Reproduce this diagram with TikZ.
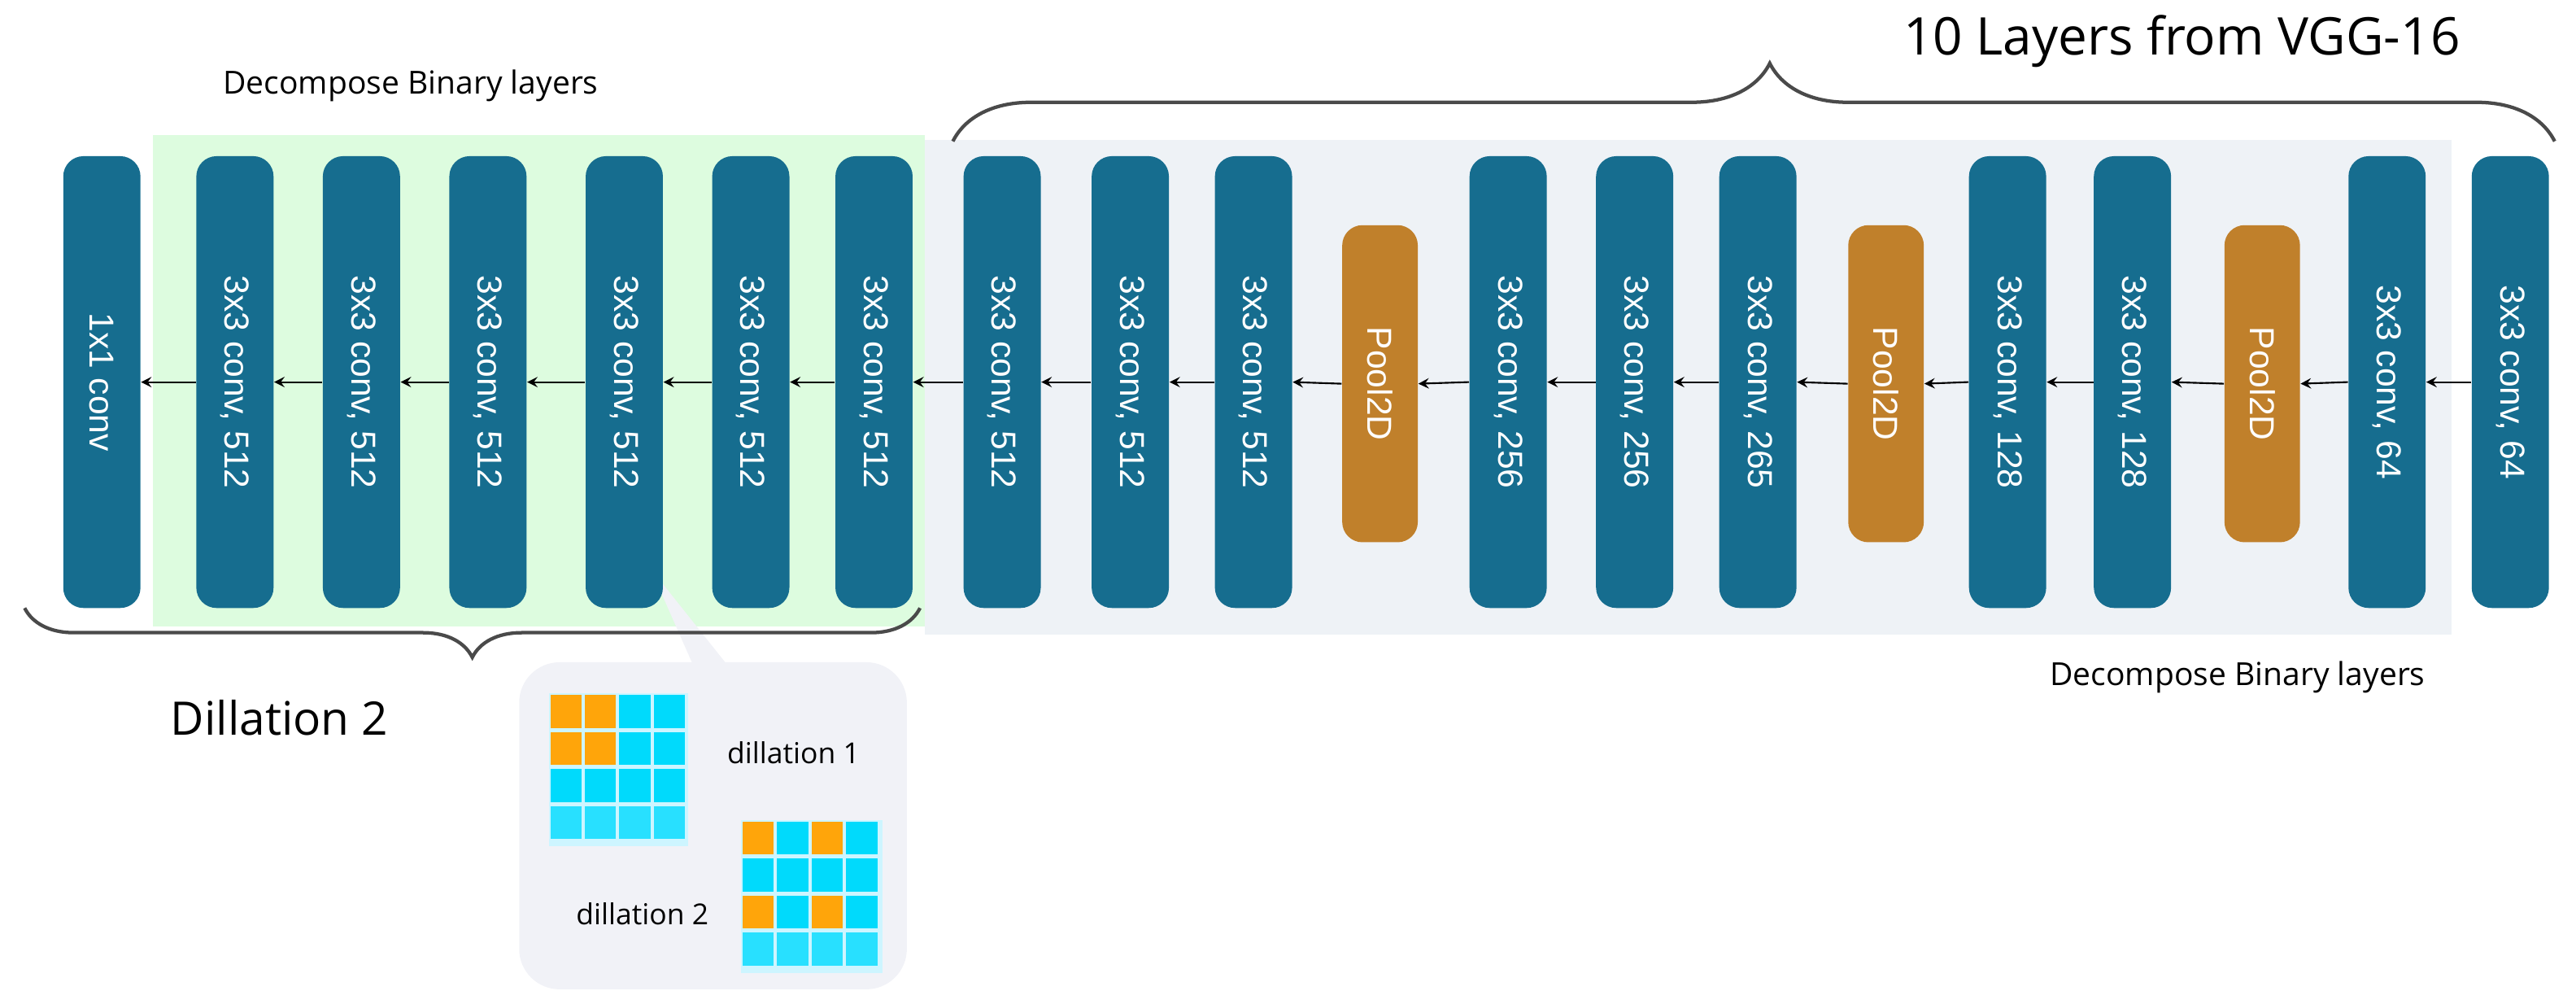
\documentclass[tikz,border=0pt]{standalone}
\usepackage{fontspec}
\setmainfont{Liberation Sans}
\newfontfamily\ofont{Open Sans}
\usetikzlibrary{decorations.pathreplacing}
\definecolor{boxc}{HTML}{166D8F}
\definecolor{poolc}{HTML}{C0802B}
\definecolor{greenbg}{HTML}{DDFCDF}
\definecolor{graybg}{HTML}{EEF2F6}
\definecolor{callc}{HTML}{F1F2F7}
\definecolor{bracec}{HTML}{4A4A4A}
\definecolor{orc}{HTML}{FFA50A}
\definecolor{cyc}{HTML}{00DAFC}
\definecolor{cyl}{HTML}{28E0FF}
\definecolor{gridbg}{HTML}{CDF5FF}
\begin{document}
\begin{tikzpicture}[x=0.02cm,y=-0.02cm,
  layer/.style={fill=boxc,rounded corners=7pt,minimum width=0.94cm,minimum height=5.5cm,inner sep=0pt,text=white,font=\fontsize{12}{14}\selectfont},
  pool/.style={fill=poolc,rounded corners=7pt,minimum width=0.92cm,minimum height=3.86cm,inner sep=0pt,text=white,font=\fontsize{12}{14}\selectfont},
  arr/.style={->,>=stealth,line width=0.6pt,black},
  brc/.style={draw=bracec,line width=1.2pt,decorate},
  lbl/.style={font=\ofont\fontsize{10}{12}\selectfont}]
\useasboundingbox (0,0) rectangle (1568,610.5);
\fill[greenbg] (93,82) rectangle (563,381);
\fill[graybg] (563,85) rectangle (1492,386);
% callout
\fill[callc] (396,346) -- (422,405) -- (443,405) -- cycle;
\fill[callc,rounded corners=14pt] (316,403) rectangle (552,602);
\foreach \n/\x/\t in {c1/62/1x1 conv, c2/143/{3x3 conv, 512}, c3/220/{3x3 conv, 512}, c4/297/{3x3 conv, 512}, c5/380/{3x3 conv, 512}, c6/457/{3x3 conv, 512}, c7/532/{3x3 conv, 512}, c8/610/{3x3 conv, 512}, c9/688/{3x3 conv, 512}, c10/763/{3x3 conv, 512}, c12/918/{3x3 conv, 256}, c13/995/{3x3 conv, 256}, c14/1070/{3x3 conv, 265}, c16/1222/{3x3 conv, 128}, c17/1298/{3x3 conv, 128}, c19/1453/{3x3 conv, 64}, c20/1528/{3x3 conv, 64}}
  \node[layer] (\n) at (\x,232.5) {};
\foreach \n/\x/\t in {c1/62/1x1 conv, c2/143/{3x3 conv, 512}, c3/220/{3x3 conv, 512}, c4/297/{3x3 conv, 512}, c5/380/{3x3 conv, 512}, c6/457/{3x3 conv, 512}, c7/532/{3x3 conv, 512}, c8/610/{3x3 conv, 512}, c9/688/{3x3 conv, 512}, c10/763/{3x3 conv, 512}, c12/918/{3x3 conv, 256}, c13/995/{3x3 conv, 256}, c14/1070/{3x3 conv, 265}, c16/1222/{3x3 conv, 128}, c17/1298/{3x3 conv, 128}, c19/1453/{3x3 conv, 64}, c20/1528/{3x3 conv, 64}}
  \node[rotate=-90,text=white,font=\fontsize{12}{14}\selectfont] at (\n.center) {\t};
\foreach \n/\x in {c11/840,c15/1148,c18/1377}
  \node[pool] (\n) at (\x,233.5) {};
\foreach \n in {c11,c15,c18}
  \node[rotate=-90,text=white,font=\fontsize{12}{14}\selectfont] at (\n.center) {Pool2D};
\foreach \a/\b in {c2/c1,c3/c2,c4/c3,c5/c4,c6/c5,c7/c6,c8/c7,c9/c8,c10/c9,c11/c10,c12/c11,c13/c12,c14/c13,c15/c14,c16/c15,c17/c16,c18/c17,c19/c18,c20/c19}
  \draw[arr] (\a.west) -- (\b.east);
% braces
\draw[brc,decoration={brace,amplitude=0.95cm,aspect=0.51}] (580,86) -- (1555,86);
\draw[brc,decoration={brace,amplitude=0.6cm,aspect=0.5}] (560,370) -- (15,370);
\node[lbl,font=\ofont\fontsize{18}{20}\selectfont] (t1) at (1328,25) {10 Layers from VGG-16};
\node[lbl,font=\ofont\fontsize{11}{13}\selectfont] (t2) at (250,52) {Decompose Binary layers};
\node[lbl,font=\ofont\fontsize{11}{13}\selectfont] (t3) at (1362,412) {Decompose Binary layers};
\node[lbl,font=\ofont\fontsize{16}{18}\selectfont] (t4) at (170,437) {Dillation 2};
% grids
\fill[gridbg] (334,422) rectangle (419,515);
\fill[gridbg] (451,499) rectangle (537,592);
\foreach \i in {0,...,3} \foreach \j in {0,...,3} {
  \pgfmathsetmacro{\xa}{335+\i*21}\pgfmathsetmacro{\ya}{423+\j*22.5}
  \ifnum\j=3 \fill[cyl] (\xa,\ya) rectangle ++(19,20);\else\fill[cyc] (\xa,\ya) rectangle ++(19,20);\fi
  \pgfmathsetmacro{\xb}{452+\i*21}\pgfmathsetmacro{\yb}{500+\j*22.5}
  \ifnum\j=3 \fill[cyl] (\xb,\yb) rectangle ++(19,20);\else\fill[cyc] (\xb,\yb) rectangle ++(19,20);\fi
}
\foreach \i/\j in {0/0,0/1,1/0,1/1} \fill[orc] (335+\i*21,423+\j*22.5) rectangle ++(19,20);
\foreach \i/\j in {0/0,0/2,2/0,2/2} \fill[orc] (452+\i*21,500+\j*22.5) rectangle ++(19,20);
\node[lbl] (d1) at (483,458) {dillation 1};
\node[lbl] (d2) at (391,556) {dillation 2};
\end{tikzpicture}
\end{document}
